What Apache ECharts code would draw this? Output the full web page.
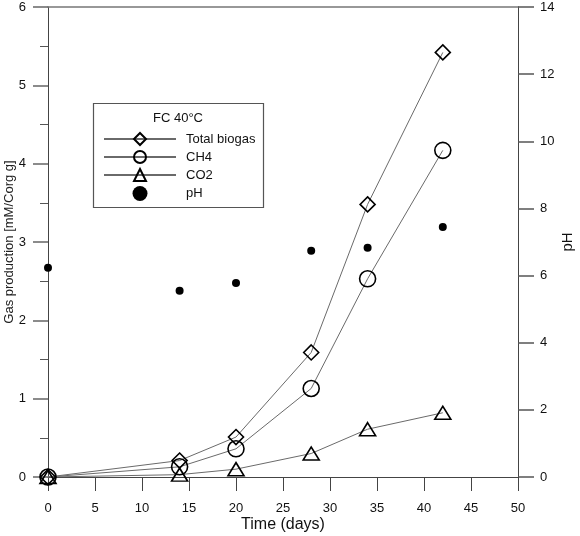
<!DOCTYPE html>
<html><head><meta charset="utf-8">
<script src="https://cdn.jsdelivr.net/npm/echarts@6/dist/echarts.min.js"></script>
<style>html,body{margin:0;padding:0;background:#fff}#c{width:580px;height:536px}</style>
</head><body><div id="c"></div>
<script>
const days = [0, 14, 20, 28, 34, 42];
const totalBiogas = [0, 0.21, 0.51, 1.59, 3.48, 5.42];
const ch4 = [0, 0.13, 0.36, 1.13, 2.53, 4.17];
const co2 = [0, 0.03, 0.10, 0.30, 0.61, 0.82];
const ph = [6.23, 5.55, 5.78, 6.74, 6.83, 7.45];
const legendTitle = 'FC 40°C';

const pair = (xs, ys) => xs.map((x, i) => [x, ys[i]]);
const font = 'Liberation Sans, Arial, sans-serif';
const lineCol = '#6a6a6a';
const axisCol = '#444';

const chart = echarts.init(document.getElementById('c'));
const markerStyle = {color: 'rgba(0,0,0,0)', borderColor: '#000', borderWidth: 1.6, opacity: 1};
chart.setOption({
  animation: false,
  grid: {left: 48, right: 62, top: 7, bottom: 59, containLabel: false, outerBoundsMode: 'none'},
  xAxis: [{
    type: 'value', min: 0, max: 50, interval: 5,
    name: 'Time (days)', nameLocation: 'middle', nameGap: 40, nameMoveOverlap: false,
    nameTextStyle: {fontFamily: font, fontSize: 16, color: '#111'},
    axisLine: {onZero: false, lineStyle: {color: axisCol, width: 1}},
    axisTick: {inside: false, length: 14, lineStyle: {color: axisCol}},
    axisLabel: {fontFamily: font, fontSize: 13, color: '#111', margin: 25},
    splitLine: {show: false}
  }, {
    type: 'value', position: 'top', min: 0, max: 50, interval: 5,
    axisLine: {show: true, onZero: false, lineStyle: {color: '#777', width: 1.5}},
    axisTick: {show: false}, axisLabel: {show: false}, splitLine: {show: false}
  }],
  yAxis: [{
    type: 'value', min: 0, max: 6, interval: 1, position: 'left',
    name: 'Gas production [mM/Corg g]', nameLocation: 'middle', nameGap: 32, nameMoveOverlap: false,
    nameTextStyle: {fontFamily: font, fontSize: 13, color: '#222'},
    axisLine: {show: true, onZero: false, lineStyle: {color: axisCol, width: 1}},
    axisTick: {show: true, inside: false, length: 15, lineStyle: {color: '#666', width: 1.5}},
    minorTick: {show: true, splitNumber: 2, length: 8, lineStyle: {color: '#555'}},
    axisLabel: {fontFamily: font, fontSize: 13, color: '#111', margin: 22},
    splitLine: {show: false}
  }, {
    type: 'value', min: 0, max: 14, interval: 2, position: 'right',
    name: 'pH', nameLocation: 'middle', nameGap: 42, nameRotate: 90, nameMoveOverlap: false,
    nameTextStyle: {fontFamily: font, fontSize: 15, color: '#111'},
    axisLine: {show: true, onZero: false, lineStyle: {color: axisCol, width: 1}},
    axisTick: {show: true, inside: false, length: 16, lineStyle: {color: '#555', width: 1.5}},
    axisLabel: {fontFamily: font, fontSize: 13, color: '#111', margin: 22},
    splitLine: {show: false}
  }],
  legend: {
    orient: 'vertical', left: 103, top: 132, padding: 0,
    itemWidth: 72, itemHeight: 15, itemGap: 4,
    textStyle: {fontFamily: font, fontSize: 13, color: '#111', padding: [0, 0, 0, 5]},
    data: ['Total biogas', 'CH4', 'CO2', 'pH']
  },
  graphic: [{
    type: 'rect', shape: {x: 93.5, y: 103.5, width: 170, height: 104},
    style: {fill: 'none', stroke: '#555', lineWidth: 1.2}, z: 10
  }, {
    type: 'text', x: 178, y: 118,
    style: {text: legendTitle, font: '13px ' + font, fill: '#111', textAlign: 'center', textVerticalAlign: 'middle'}, z: 10
  }],
  series: [{
    name: 'Total biogas', type: 'line', data: pair(days, totalBiogas),
    symbol: 'diamond', symbolSize: 15, itemStyle: markerStyle,
    lineStyle: {color: lineCol, width: 1}, z: 3
  }, {
    name: 'CH4', type: 'line', data: pair(days, ch4),
    symbol: 'circle', symbolSize: 16, itemStyle: markerStyle,
    lineStyle: {color: lineCol, width: 1}, z: 3
  }, {
    name: 'CO2', type: 'line', data: pair(days, co2),
    symbol: 'triangle', symbolSize: [16, 13], itemStyle: markerStyle,
    lineStyle: {color: lineCol, width: 1}, z: 3
  }, {
    name: 'pH', type: 'scatter', yAxisIndex: 1, data: pair(days, ph),
    symbol: 'circle', symbolSize: 8, itemStyle: {color: '#000', opacity: 1}, z: 4
  }]
});
</script></body></html>
